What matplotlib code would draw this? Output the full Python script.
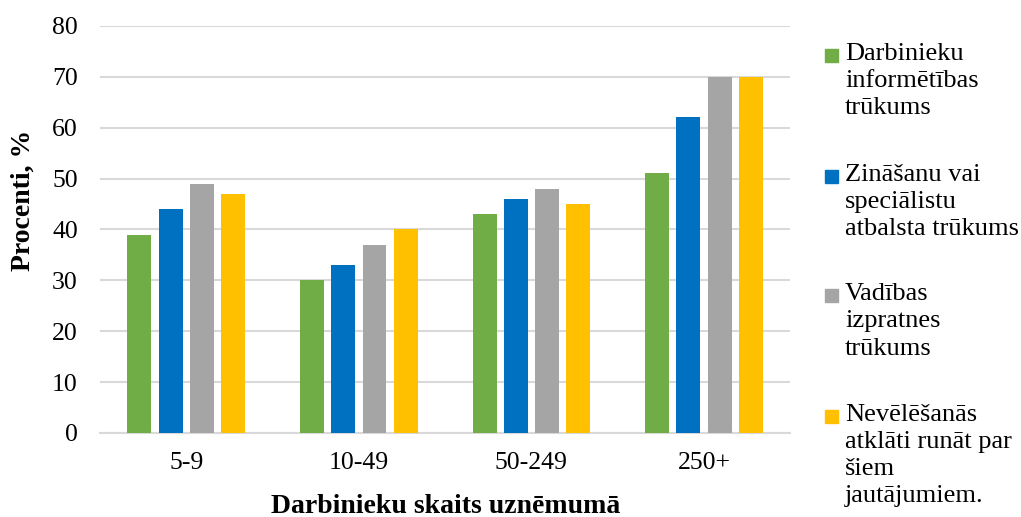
import matplotlib.pyplot as plt
from matplotlib.patches import Rectangle
import numpy as np

plt.rcParams['font.family'] = ['Liberation Serif', 'DejaVu Serif']

# data
groups = ['5-9', '10-49', '50-249', '250+']
series_names = ['Darbinieku\ninformētības\ntrūkums',
                'Zināšanu vai\nspeciālistu\natbalsta trūkums',
                'Vadības\nizpratnes\ntrūkums',
                'Nevēlēšanās\natklāti runāt par\nšiem\njautājumiem.']
informetiba = [39, 30, 43, 51]
zinasanas = [44, 33, 46, 62]
vadiba = [49, 37, 48, 70]
nevelesanas = [47, 40, 45, 70]
colors = ['#70AD47', '#0070C0', '#A5A5A5', '#FFC000']

fig = plt.figure(figsize=(10.21, 5.17), dpi=100)
ax = fig.add_axes([0.098, 0.1625, 0.676, 0.7875])

x = np.arange(len(groups))
pitch = 0.181
width = 0.139
all_series = [informetiba, zinasanas, vadiba, nevelesanas]
for i, vals in enumerate(all_series):
    ax.bar(x + (i - 1.5) * pitch, vals, width, color=colors[i], zorder=3)

ax.set_xlim(-0.5, 3.5)
ax.set_ylim(0, 80)
ax.set_yticks(range(0, 81, 10))
ax.set_xticks(x)
ax.set_xticklabels(groups)
ax.grid(axis='y', color='#D9D9D9', linewidth=1.5, zorder=0)
for s in ['top', 'right', 'left']:
    ax.spines[s].set_visible(False)
ax.spines['bottom'].set_color('#D9D9D9')
ax.spines['bottom'].set_linewidth(1.5)
ax.tick_params(axis='y', length=0, pad=16, labelsize=18.5)
ax.tick_params(axis='x', length=0, pad=14, labelsize=18.5)
ax.set_ylabel('Procenti, %', fontsize=20, fontweight='bold')
ax.yaxis.set_label_coords(-0.093, 0.572)
ax.set_xlabel('Darbinieku skaits uznēmumā', fontsize=20, fontweight='bold', labelpad=14)

# legend, drawn by hand so the square sits on the first line
tops = [0.917, 0.683, 0.452, 0.219]
for i, name in enumerate(series_names):
    fig.add_artist(Rectangle((825 / 1021, tops[i] - 0.037), 13 / 1021, 13 / 517,
                             transform=fig.transFigure, color=colors[i]))
    fig.text(845 / 1021, tops[i], name, fontsize=19, va='top', ha='left',
             linespacing=1.3)

fig.savefig('out.png', dpi=100)
